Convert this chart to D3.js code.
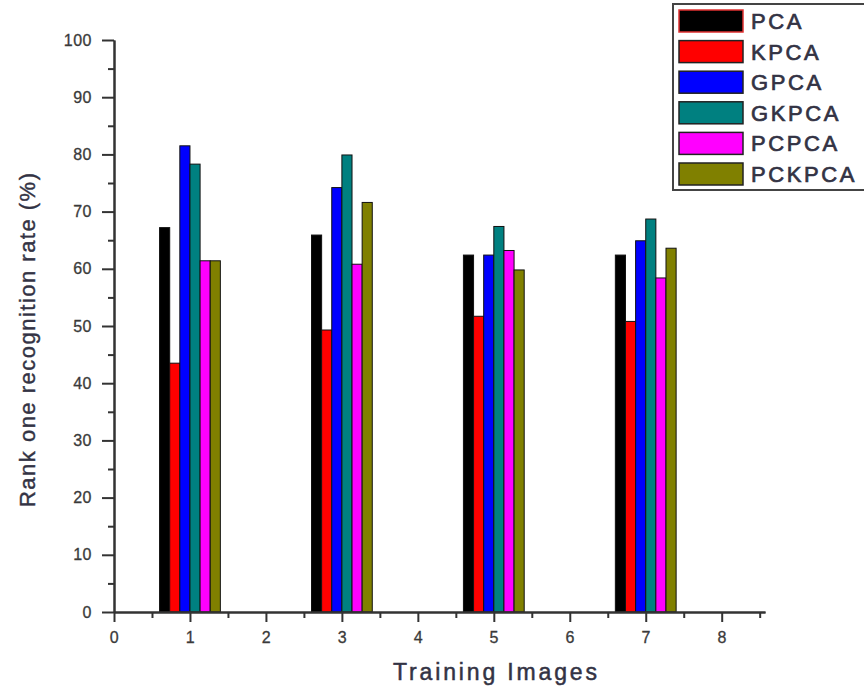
<!DOCTYPE html>
<html>
<head>
<meta charset="utf-8">
<script src="https://cdn.jsdelivr.net/npm/d3@7"></script>
<style>
  html, body { margin: 0; padding: 0; background: #fff; }
  svg { display: block; }
  text { font-family: "Liberation Sans", Arial, sans-serif; }
</style>
</head>
<body>
<svg id="chart" width="864" height="687"></svg>
<script>
// ---- data ----
const categories = [1, 3, 5, 7];
const seriesNames = ["PCA", "KPCA", "GPCA", "GKPCA", "PCPCA", "PCKPCA"];
const PCA    = [67.2, 65.9, 62.4, 62.4];
const KPCA   = [43.5, 49.3, 51.7, 50.8];
const GPCA   = [81.5, 74.2, 62.4, 64.9];
const GKPCA  = [78.3, 79.9, 67.4, 68.7];
const PCPCA  = [61.4, 60.8, 63.2, 58.4];
const PCKPCA = [61.4, 71.6, 59.8, 63.6];
const xTickLabels = [0, 1, 2, 3, 4, 5, 6, 7, 8];
const yTickLabels = [0, 10, 20, 30, 40, 50, 60, 70, 80, 90, 100];
const seriesValues = [PCA, KPCA, GPCA, GKPCA, PCPCA, PCKPCA];
const colors = ["#000000", "#ff0000", "#0000ff", "#008080", "#ff00ff", "#808000"];

// ---- layout ----
const svg = d3.select("#chart");
const x = d3.scaleLinear().domain([0, 8.57]).range([114, 765]);
const y = d3.scaleLinear().domain([0, 100]).range([612, 40]);
const groupWidth = 0.8;
const barW = groupWidth / seriesNames.length;

// bars
seriesValues.forEach((vals, si) => {
  svg.append("g").selectAll("rect")
    .data(categories.map((c, i) => ({ c, v: vals[i] })))
    .join("rect")
    .attr("x", d => x(d.c - groupWidth / 2 + si * barW))
    .attr("width", d => x(d.c - groupWidth / 2 + (si + 1) * barW) - x(d.c - groupWidth / 2 + si * barW))
    .attr("y", d => y(d.v))
    .attr("height", d => y(0) - y(d.v))
    .attr("fill", colors[si])
    .attr("stroke", "#111")
    .attr("stroke-width", 1);
});

const axisColor = "#333";
// x axis
const xAxis = svg.append("g").attr("transform", `translate(0,${y(0)})`)
  .call(d3.axisBottom(x).tickValues(xTickLabels).tickFormat(d3.format("d")).tickSize(10).tickSizeOuter(0).tickPadding(10));
const xMinor = svg.append("g").attr("transform", `translate(0,${y(0)})`)
  .call(d3.axisBottom(x).tickValues(xTickLabels.map(v => v + 0.5)).tickFormat("").tickSize(6).tickSizeOuter(0));
// y axis
const yAxis = svg.append("g").attr("transform", `translate(${x(0)},0)`)
  .call(d3.axisLeft(y).tickValues(yTickLabels).tickFormat(d3.format("d")).tickSize(12).tickSizeOuter(0).tickPadding(10));
const yMinor = svg.append("g").attr("transform", `translate(${x(0)},0)`)
  .call(d3.axisLeft(y).tickValues(yTickLabels.slice(0, -1).map(v => v + 5)).tickFormat("").tickSize(6).tickSizeOuter(0));

[xAxis, xMinor, yAxis, yMinor].forEach(g => {
  g.select(".domain").attr("stroke", axisColor).attr("stroke-width", 2);
  g.selectAll(".tick line").attr("stroke", axisColor).attr("stroke-width", 2);
});
[xAxis, yAxis].forEach(g => {
  g.selectAll(".tick text").attr("fill", "#3a3a3a").attr("font-size", 16)
    .attr("font-family", "'Liberation Sans', Arial, sans-serif").attr("letter-spacing", "0.5px")
    .attr("stroke", "#3a3a3a").attr("stroke-width", 0.3);
});

// titles
svg.append("text")
  .attr("x", 393).attr("y", 680)
  .attr("font-size", 23).attr("fill", "#333344")
  .attr("stroke", "#333344").attr("stroke-width", 0.5)
  .attr("textLength", 204).attr("lengthAdjust", "spacing")
  .text("Training Images");

svg.append("text")
  .attr("transform", "translate(35,507) rotate(-90)")
  .attr("x", 0).attr("y", 0)
  .attr("font-size", 22).attr("fill", "#333344")
  .attr("stroke", "#333344").attr("stroke-width", 0.4)
  .attr("textLength", 334).attr("lengthAdjust", "spacing")
  .text("Rank one recognition rate (%)");

// legend
const leg = svg.append("g");
leg.append("rect")
  .attr("x", 673).attr("y", 4).attr("width", 200).attr("height", 186)
  .attr("fill", "#fff").attr("stroke", "#444").attr("stroke-width", 2);
seriesNames.forEach((name, i) => {
  const cy = 21 + i * 30.6;
  leg.append("rect")
    .attr("x", 679).attr("y", cy - 11).attr("width", 64).attr("height", 22)
    .attr("fill", colors[i]).attr("stroke", i === 0 ? "#e03030" : "#222").attr("stroke-width", 1.5);
  leg.append("text")
    .attr("x", 751).attr("y", cy + 8)
    .attr("font-size", 22).attr("fill", "#333344")
    .attr("stroke", "#333344").attr("stroke-width", 0.7)
    .attr("letter-spacing", "2.6px")
    .text(name);
});
</script>
</body>
</html>
